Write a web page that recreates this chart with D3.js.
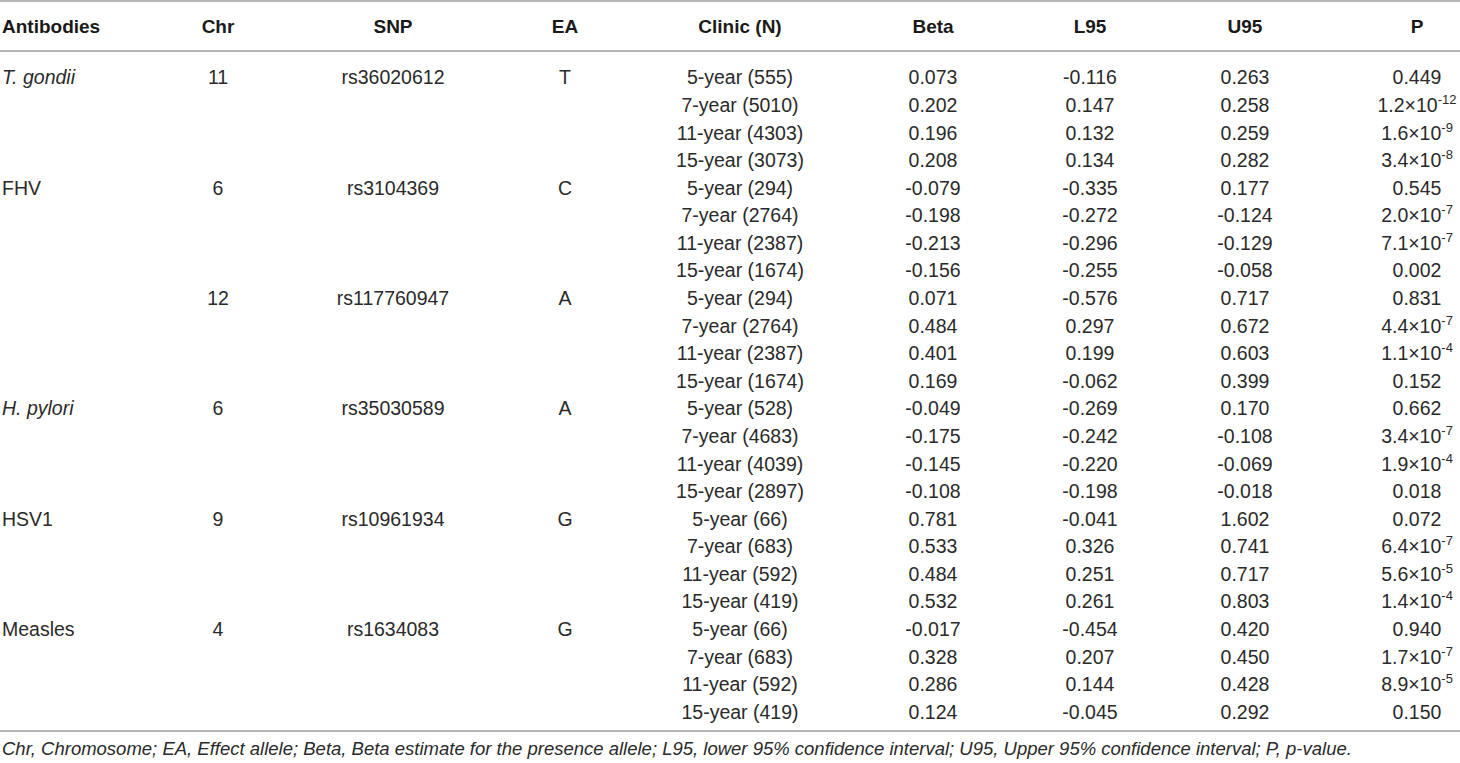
<!DOCTYPE html>
<html>
<head>
<meta charset="utf-8">
<script src="https://cdn.jsdelivr.net/npm/d3@7"></script>
<style>
  body { margin: 0; background: #fff; }
  svg { display: block; }
  text { font-family: "Liberation Sans", Arial, Helvetica, sans-serif; fill: #2a2a2a; }
</style>
</head>
<body>
<div id="wrapper"></div>
<script>
// one entry per SNP block (4 clinic rows each)
const antibodies = ["T. gondii", "FHV", "", "H. pylori", "HSV1", "Measles"]
const italicNames = ["T. gondii", "H. pylori"]
const chr = [11, 6, 12, 6, 9, 4]
const snp = ["rs36020612", "rs3104369", "rs117760947", "rs35030589", "rs10961934", "rs1634083"]
const ea = ["T", "C", "A", "A", "G", "G"]

// one entry per row
const years = ["5-year", "7-year", "11-year", "15-year"]
const clinicN = [555, 5010, 4303, 3073, 294, 2764, 2387, 1674, 294, 2764, 2387, 1674,
  528, 4683, 4039, 2897, 66, 683, 592, 419, 66, 683, 592, 419]
const beta = [0.073, 0.202, 0.196, 0.208, -0.079, -0.198, -0.213, -0.156,
  0.071, 0.484, 0.401, 0.169, -0.049, -0.175, -0.145, -0.108,
  0.781, 0.533, 0.484, 0.532, -0.017, 0.328, 0.286, 0.124]
const l95 = [-0.116, 0.147, 0.132, 0.134, -0.335, -0.272, -0.296, -0.255,
  -0.576, 0.297, 0.199, -0.062, -0.269, -0.242, -0.220, -0.198,
  -0.041, 0.326, 0.251, 0.261, -0.454, 0.207, 0.144, -0.045]
const u95 = [0.263, 0.258, 0.259, 0.282, 0.177, -0.124, -0.129, -0.058,
  0.717, 0.672, 0.603, 0.399, 0.170, -0.108, -0.069, -0.018,
  1.602, 0.741, 0.717, 0.803, 0.420, 0.450, 0.428, 0.292]
const pvals = ["0.449", "1.2e-12", "1.6e-9", "3.4e-8", "0.545", "2.0e-7", "7.1e-7", "0.002",
  "0.831", "4.4e-7", "1.1e-4", "0.152", "0.662", "3.4e-7", "1.9e-4", "0.018",
  "0.072", "6.4e-7", "5.6e-5", "1.4e-4", "0.940", "1.7e-7", "8.9e-5", "0.150"]

const headers = ["Antibodies", "Chr", "SNP", "EA", "Clinic (N)", "Beta", "L95", "U95", "P"]
const footnote = "Chr, Chromosome; EA, Effect allele; Beta, Beta estimate for the presence allele; L95, lower 95% confidence interval; U95, Upper 95% confidence interval; P, p-value."

const dms = {
  width: 1460,
  height: 763,
  topLine: 1,
  headLine: 51,
  bottomLine: 731,
  headerY: 26.5,
  firstRow: 77.5,
  lastRow: 712,
  footY: 748,
  fontSize: 19.5,
  headSize: 19,
  footSize: 18.5,
}

// column centres (Antibodies is left aligned)
const colX = [2, 218, 393, 565, 740, 933, 1090, 1245, 1417]

const wrapper = d3.select("#wrapper")
  .append("svg")
  .attr("width", dms.width)
  .attr("height", dms.height)

const nRows = clinicN.length
const yScale = d3.scaleLinear()
  .domain([0, nRows - 1])
  .range([dms.firstRow, dms.lastRow])

// baseline from visual centre of digits/caps
const base = y => y + 19 * 0.36

const fmt = v => v.toFixed(3)

// rules
const rules = [dms.topLine, dms.headLine, dms.bottomLine]
wrapper.selectAll("line.rule")
  .data(rules)
  .join("line")
  .attr("class", "rule")
  .attr("x1", 0)
  .attr("x2", dms.width)
  .attr("y1", d => d)
  .attr("y2", d => d)
  .attr("stroke", "#9d9d9d")
  .attr("stroke-width", 1.6)

// header
wrapper.selectAll("text.head")
  .data(headers)
  .join("text")
  .attr("class", "head")
  .attr("x", (d, i) => colX[i])
  .attr("y", base(dms.headerY))
  .attr("text-anchor", (d, i) => i == 0 ? "start" : "middle")
  .attr("font-size", dms.headSize)
  .attr("font-weight", "bold")
  .style("fill", "#1a1a1a")
  .text(d => d)

// block level cells
const blocks = antibodies.map((a, i) => ({ a, chr: chr[i], snp: snp[i], ea: ea[i], row: i * 4 }))
const blockG = wrapper.selectAll("g.block")
  .data(blocks)
  .join("g")
  .attr("class", "block")

blockG.append("text")
  .attr("x", colX[0])
  .attr("y", d => base(yScale(d.row)))
  .attr("font-size", dms.fontSize)
  .attr("font-style", d => italicNames.includes(d.a) ? "italic" : "normal")
  .text(d => d.a)

const blockCols = [["chr", 1], ["snp", 2], ["ea", 3]]
blockCols.forEach(([key, ci]) => {
  blockG.append("text")
    .attr("x", colX[ci])
    .attr("y", d => base(yScale(d.row)))
    .attr("text-anchor", "middle")
    .attr("font-size", dms.fontSize)
    .text(d => d[key])
})

// row level cells
const rows = clinicN.map((n, i) => ({
  clinic: `${years[i % 4]} (${n})`,
  beta: fmt(beta[i]),
  l95: fmt(l95[i]),
  u95: fmt(u95[i]),
  p: pvals[i],
  i,
}))

const rowG = wrapper.selectAll("g.row")
  .data(rows)
  .join("g")
  .attr("class", "row")

const rowCols = [["clinic", 4], ["beta", 5], ["l95", 6], ["u95", 7]]
rowCols.forEach(([key, ci]) => {
  rowG.append("text")
    .attr("x", colX[ci])
    .attr("y", d => base(yScale(d.i)))
    .attr("text-anchor", "middle")
    .attr("font-size", dms.fontSize)
    .text(d => d[key])
})

const pText = rowG.append("text")
  .attr("x", colX[8])
  .attr("y", d => base(yScale(d.i)))
  .attr("text-anchor", "middle")
  .attr("font-size", dms.fontSize)

pText.each(function (d) {
  const t = d3.select(this)
  if (d.p.includes("e")) {
    const [m, e] = d.p.split("e")
    t.append("tspan").text(`${m}×10`)
    t.append("tspan")
      .attr("font-size", 13)
      .attr("dy", -8)
      .text(e)
  } else {
    t.text(d.p)
  }
})

// footnote
wrapper.append("text")
  .attr("x", 2)
  .attr("y", base(dms.footY))
  .attr("font-size", dms.footSize)
  .attr("font-style", "italic")
  .text(footnote)
</script>
</body>
</html>
